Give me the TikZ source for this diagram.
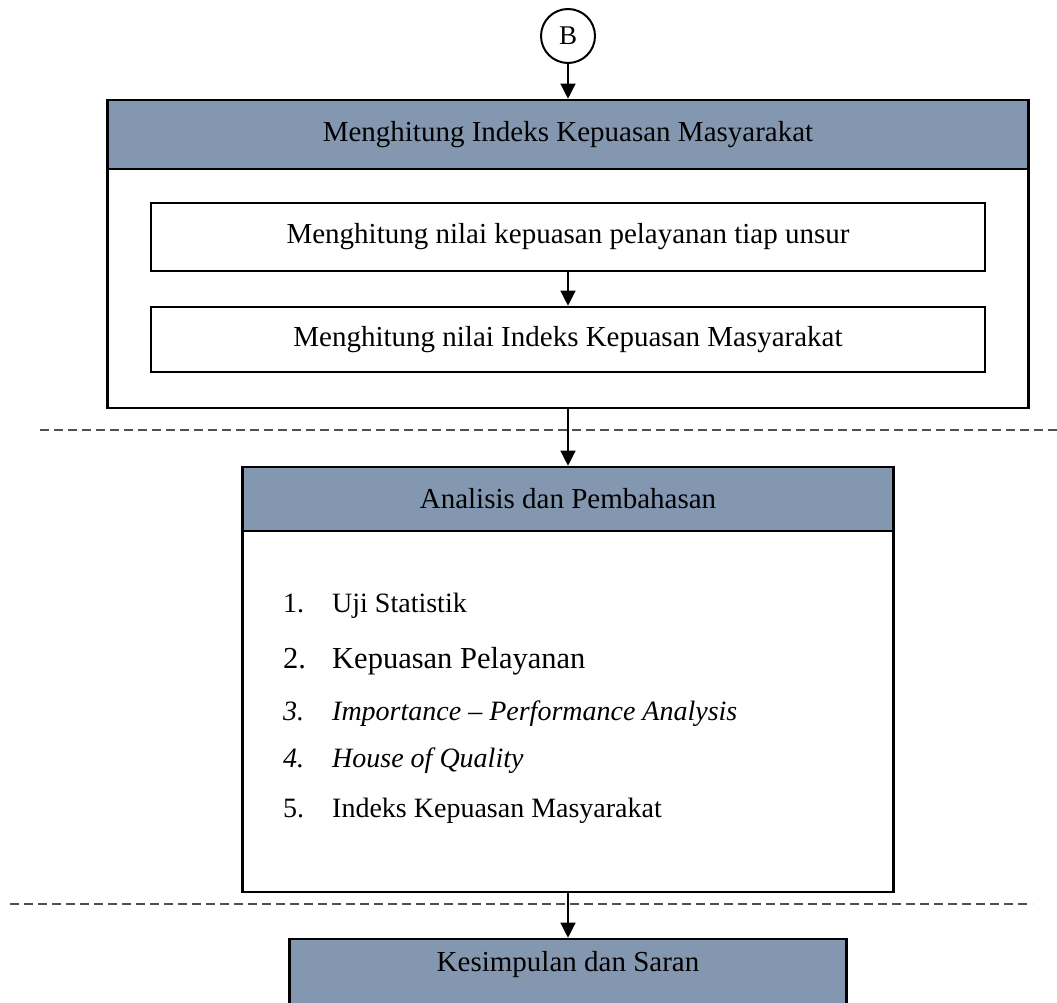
\documentclass[tikz,border=0pt]{standalone}
\usepackage{fontspec}
\setmainfont{Liberation Serif}
\usetikzlibrary{arrows.meta}
\definecolor{headfill}{HTML}{8497B0}
\definecolor{sepgray}{HTML}{505050}
\begin{document}
\begin{tikzpicture}[x=1pt,y=-1pt,
  txt/.style={font=\fontsize{29}{34}\selectfont},
  frame/.style={draw=black,line width=2.6pt,inner sep=0pt},
  headbox/.style={frame,fill=headfill,txt},
  plainbox/.style={frame,fill=white,txt},
  flow/.style={draw=black,line width=1.3pt,-{Triangle[length=15pt,width=15pt]}},
  separator/.style={draw=sepgray,line width=2pt,dash pattern=on 9pt off 5pt},
  listitem/.style={anchor=base west,inner sep=0pt,font=\fontsize{28}{33}\selectfont}]
\useasboundingbox (0,0) rectangle (1057,1003);

% connector B
\node[draw=black,line width=2pt,circle,minimum size=54pt,inner sep=0pt,
      font=\fontsize{27}{32}\selectfont] (conB) at (568,36) {B};

% stage 1: index calculation
\node[frame,minimum width=921pt,minimum height=308pt] (boxA) at (568,254) {};
\node[headbox,minimum width=921pt,minimum height=69pt] (hdrA) at (568,134.5)
  {Menghitung Indeks Kepuasan Masyarakat};
\node[plainbox,minimum width=834pt,minimum height=68pt] (stepA1) at (568,237)
  {Menghitung nilai kepuasan pelayanan tiap unsur};
\node[plainbox,minimum width=834pt,minimum height=65pt] (stepA2) at (568,339.5)
  {Menghitung nilai Indeks Kepuasan Masyarakat};

% stage 2: analysis
\node[frame,minimum width=651pt,minimum height=425pt] (boxB) at (568,679.5) {};
\node[headbox,minimum width=651pt,minimum height=64pt] (hdrB) at (568,499)
  {Analisis dan Pembahasan};
\node[listitem] (itm1) at (283,612) {\makebox[49pt][l]{1.}Uji Statistik};
\node[listitem,font=\fontsize{30.5}{35}\selectfont] (itm2) at (283,668)
  {\makebox[49pt][l]{2.}Kepuasan Pelayanan};
\node[listitem,font=\fontsize{28}{33}\itshape] (itm3) at (283,720)
  {\makebox[49pt][l]{3.}Importance -- Performance Analysis};
\node[listitem,font=\fontsize{28}{33}\itshape] (itm4) at (283,767)
  {\makebox[49pt][l]{4.}House of Quality};
\node[listitem] (itm5) at (283,817) {\makebox[49pt][l]{5.}Indeks Kepuasan Masyarakat};

% stage 3: conclusion
\node[frame,fill=headfill,minimum width=557pt,minimum height=82pt] (boxC) at (568,980) {};
\node[txt,inner sep=0pt] (lblC) at (568,965) {Kesimpulan dan Saran};

% phase separators
\draw[separator] (40,430) -- (1057,430);
\draw[separator] (10,904) -- (1032,904);

% flow
\draw[flow] (conB) -- (hdrA.north);
\draw[flow] (stepA1.south) -- (stepA2.north);
\draw[flow] (boxA.south) -- (hdrB.north);
\draw[flow] (boxB.south) -- (boxC.north);
\end{tikzpicture}
\end{document}
